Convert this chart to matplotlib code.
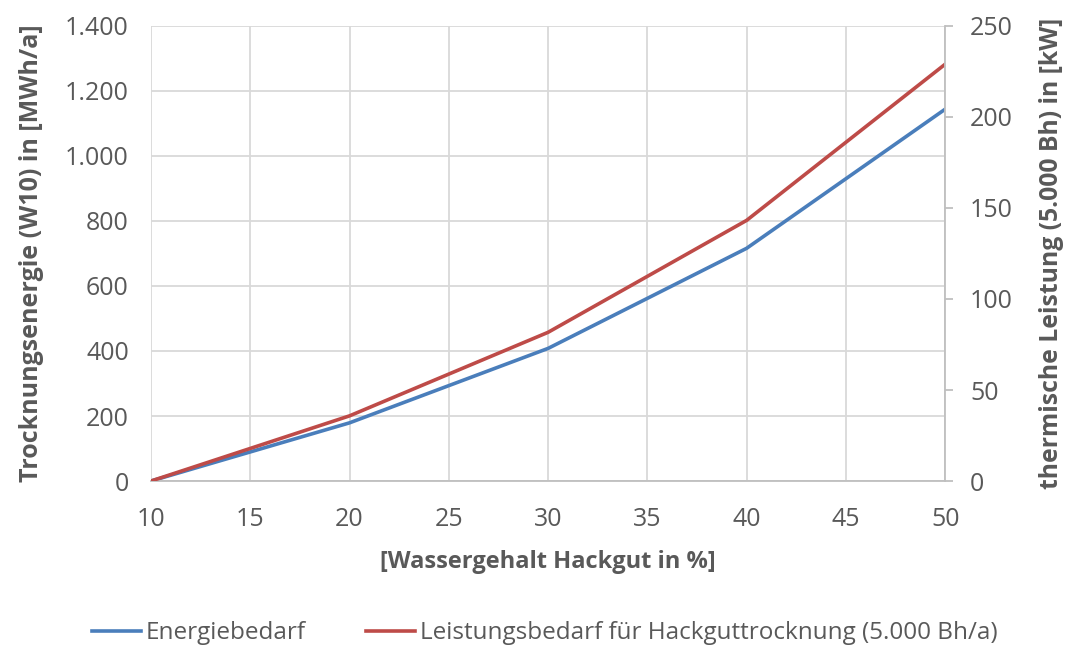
import matplotlib
matplotlib.use("Agg")
import matplotlib.pyplot as plt
from matplotlib.ticker import FuncFormatter, MultipleLocator

# data
wassergehalt = [10, 20, 30, 40, 50]
energiebedarf = [0, 179, 408, 716, 1144]          # MWh/a, left axis
leistungsbedarf = [0, 35.8, 81.7, 143.2, 229.0]   # kW, right axis

x_label = "[Wassergehalt Hackgut in %]"
y_label_left = "Trocknungsenergie (W10) in [MWh/a]"
y_label_right = "thermische Leistung (5.000 Bh) in [kW]"
name_blue = "Energiebedarf"
name_red = "Leistungsbedarf für Hackguttrocknung (5.000 Bh/a)"

plt.rcParams['font.family'] = ['Open Sans', 'DejaVu Sans']
txt = '#595959'
grid = '#D9D9D9'
axis_col = '#BFBFBF'

fig = plt.figure(figsize=(10.68, 6.46), dpi=100)
ax = fig.add_axes([0.1414, 0.2554, 0.885 - 0.1414, 0.9598 - 0.2554])
ax2 = ax.twinx()

l1, = ax.plot(wassergehalt, energiebedarf, color='#4A7EBB', lw=2.6, label=name_blue)
l2, = ax2.plot(wassergehalt, leistungsbedarf, color='#BE4B48', lw=2.6, label=name_red)

ax.set_xlim(10, 50)
ax.set_ylim(0, 1400)
ax2.set_ylim(0, 250)
ax.xaxis.set_major_locator(MultipleLocator(5))
ax.yaxis.set_major_locator(MultipleLocator(200))
ax2.yaxis.set_major_locator(MultipleLocator(50))
ax.yaxis.set_major_formatter(FuncFormatter(lambda v, p: f"{int(v):,}".replace(",", ".")))

ax.grid(True, color=grid, lw=1.3)
ax.set_axisbelow(True)
for s in ['top', 'left']:
    ax.spines[s].set_visible(False)
    ax2.spines[s].set_visible(False)
ax.spines['right'].set_visible(False)
ax.spines['bottom'].set_color(axis_col)
ax.spines['bottom'].set_linewidth(1.3)
ax2.spines['bottom'].set_visible(False)
ax2.spines['right'].set_color(axis_col)
ax2.spines['right'].set_linewidth(1.3)

ax.tick_params(axis='y', length=0, labelsize=18, labelcolor=txt, pad=16)
ax.tick_params(axis='x', length=0, labelsize=18, labelcolor=txt, pad=19)
ax2.tick_params(axis='y', length=6, color=axis_col, width=1.3, labelsize=18, labelcolor=txt, pad=12)

ax.set_xlabel(x_label, fontsize=17, fontweight='bold', color=txt, labelpad=13)
ax.set_ylabel(y_label_left, fontsize=18, fontweight='bold', color=txt, labelpad=15)
ax2.set_ylabel(y_label_right, fontsize=17.8, fontweight='bold', color=txt, labelpad=19)

fig.legend(handles=[l1, l2], loc='center', bbox_to_anchor=(0.51, 0.02), ncol=2,
           frameon=False, fontsize=17.5, labelcolor=txt, handlelength=2.0,
           handletextpad=0.2, columnspacing=2.5)

fig.savefig("out.png", dpi=100)
